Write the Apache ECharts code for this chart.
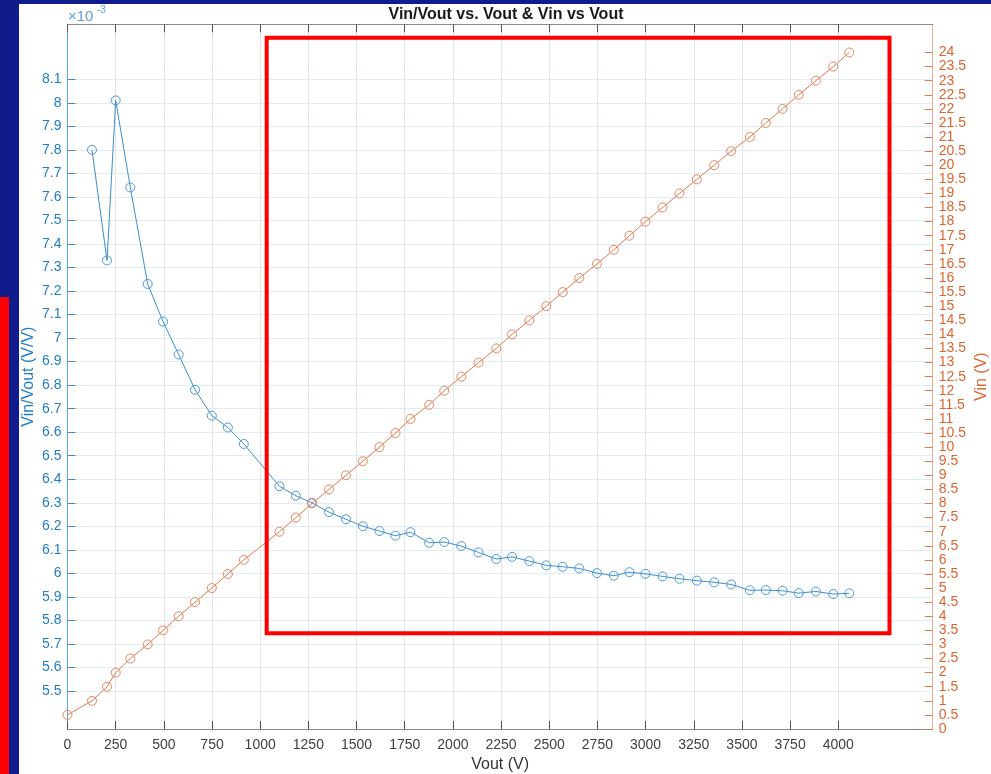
<!DOCTYPE html>
<html>
<head>
<meta charset="utf-8">
<script src="https://cdn.jsdelivr.net/npm/echarts@6/dist/echarts.min.js"></script>
<style>
  html, body { margin: 0; padding: 0; background: #ffffff; }
  #chart { width: 991px; height: 774px; }
</style>
</head>
<body>
<div id="chart"></div>
<script>
// Output voltage of each measurement (V)
const voutV = [0, 127, 205, 250, 326, 416, 496, 577, 662, 749, 832,
  915, 1100, 1185, 1268, 1357, 1445, 1533, 1619, 1702, 1780,
  1877, 1955, 2044, 2133, 2225, 2307, 2397, 2485, 2570, 2656,
  2748, 2835, 2916, 2999, 3088, 3176, 3266, 3356, 3444, 3541,
  3624, 3711, 3795, 3884, 3974, 4057];

// Input voltage applied (V)
const vinV = [0.5, 1, 1.5, 2, 2.5, 3, 3.5, 4, 4.5, 5, 5.5, 6,
  7, 7.5, 8, 8.5, 9, 9.5, 10, 10.5, 11, 11.5, 12, 12.5, 13, 13.5,
  14, 14.5, 15, 15.5, 16, 16.5, 17, 17.5, 18, 18.5, 19, 19.5, 20,
  20.5, 21, 21.5, 22, 22.5, 23, 23.5, 24];

// Vin/Vout ratio for every point with a non-zero Vout (voutV[1..])
const ratioV = [0.00780, 0.00733, 0.00801, 0.00764, 0.00723, 0.00707, 0.00693, 0.00678, 0.00667, 0.00662,
  0.00655, 0.00637, 0.00633, 0.00630, 0.00626, 0.00623, 0.00620, 0.00618, 0.00616, 0.006175,
  0.00613, 0.006133, 0.006116, 0.006089, 0.006061, 0.00607, 0.006052, 0.006034, 0.006028, 0.006021,
  0.006001, 0.00599, 0.006005, 0.005998, 0.005987, 0.005977, 0.005969, 0.005962, 0.005953, 0.005928,
  0.005929, 0.005926, 0.005916, 0.005923, 0.005912, 0.005915];

// Tick positions
const voutTicks = [0, 250, 500, 750, 1000, 1250, 1500, 1750, 2000, 2250, 2500,
  2750, 3000, 3250, 3500, 3750, 4000];
const vinTicks = [0, 0.5, 1, 1.5, 2, 2.5, 3, 3.5, 4, 4.5, 5, 5.5, 6, 6.5, 7, 7.5,
  8, 8.5, 9, 9.5, 10, 10.5, 11, 11.5, 12, 12.5, 13, 13.5, 14, 14.5, 15, 15.5,
  16, 16.5, 17, 17.5, 18, 18.5, 19, 19.5, 20, 20.5, 21, 21.5, 22, 22.5, 23, 23.5, 24];
const ratioTicks = [0.0055, 0.0056, 0.0057, 0.0058, 0.0059, 0.0060, 0.0061, 0.0062, 0.0063,
  0.0064, 0.0065, 0.0066, 0.0067, 0.0068, 0.0069, 0.0070, 0.0071, 0.0072, 0.0073,
  0.0074, 0.0075, 0.0076, 0.0077, 0.0078, 0.0079, 0.0080, 0.0081];

const FONT = '"Liberation Sans", Arial, Helvetica, sans-serif';
const NAVY = '#101c8c';

const vinData = vinV.map((v, i) => [voutV[i], v]);
const ratioData = ratioV.map((r, i) => [voutV[i + 1], r]);

const chart = echarts.init(document.getElementById('chart'), null, { renderer: 'canvas' });

chart.setOption({
  animation: false,
  backgroundColor: '#ffffff',
  title: {
    text: 'Vin/Vout vs. Vout & Vin vs Vout',
    left: 501,
    top: 2,
    textAlign: 'center',
    textStyle: { fontFamily: FONT, fontSize: 16, fontWeight: 'bold', color: '#1a1a1a' }
  },
  grid: {
    left: 67.5, right: 58.3, top: 24.3, bottom: 45,
    containLabel: false, outerBoundsMode: 'none'
  },
  xAxis: [
    {
      type: 'value', position: 'bottom', min: 0, max: 4490,
      axisLine: { show: true, onZero: false, lineStyle: { color: '#8a8a8a', width: 1 } },
      axisTick: { show: true, inside: true, length: 8, customValues: voutTicks, lineStyle: { color: '#555555' } },
      axisLabel: {
        customValues: voutTicks, color: '#404040', fontSize: 14, fontFamily: FONT, margin: 9,
        formatter: v => String(v)
      },
      splitLine: { show: true, lineStyle: { color: '#e2e5ea', width: 1 } },
      name: 'Vout (V)', nameLocation: 'middle', nameGap: 36, nameMoveOverlap: false,
      nameTextStyle: { fontFamily: FONT, fontSize: 16, color: '#333333', verticalAlign: 'middle' }
    },
    {
      type: 'value', position: 'top', min: 0, max: 4490,
      axisLine: { show: true, onZero: false, lineStyle: { color: '#8a8a8a', width: 1 } },
      axisTick: { show: true, inside: true, length: 8, customValues: voutTicks, lineStyle: { color: '#555555' } },
      axisLabel: { show: false },
      splitLine: { show: false }
    }
  ],
  yAxis: [
    {
      type: 'value', position: 'left', min: 0.0053385, max: 0.0083335,
      axisLine: { show: true, onZero: false, lineStyle: { color: '#5ea7dc', width: 1 } },
      axisTick: { show: true, inside: true, length: 8, customValues: ratioTicks, lineStyle: { color: '#3b8fd0' } },
      axisLabel: {
        customValues: ratioTicks, color: '#1f7dc4', fontSize: 14, fontFamily: FONT, margin: 6,
        formatter: v => String(Math.round(v * 10000) / 10)
      },
      splitLine: { show: true, lineStyle: { color: '#e1ecf6', width: 1 } },
      name: 'Vin/Vout (V/V)', nameLocation: 'middle', nameGap: 39, nameRotate: 90, nameMoveOverlap: false,
      nameTextStyle: { fontFamily: FONT, fontSize: 16, color: '#1f7dc4', verticalAlign: 'middle' }
    },
    {
      type: 'value', position: 'right', min: 0, max: 25,
      axisLine: { show: true, onZero: false, lineStyle: { color: '#efae8c', width: 1 } },
      axisTick: { show: true, inside: true, length: 8, customValues: vinTicks, lineStyle: { color: '#e07a4c' } },
      axisLabel: {
        customValues: vinTicks, color: '#dc6530', fontSize: 14, fontFamily: FONT, margin: 6,
        hideOverlap: false
      },
      splitLine: { show: false },
      name: 'Vin (V)', nameLocation: 'middle', nameGap: 49, nameRotate: 90, nameMoveOverlap: false,
      nameTextStyle: { fontFamily: FONT, fontSize: 16, color: '#dc6530', verticalAlign: 'middle' }
    }
  ],
  series: [
    {
      name: 'Vin/Vout', type: 'line', xAxisIndex: 0, yAxisIndex: 0,
      data: ratioData,
      symbol: 'circle', symbolSize: 9, showSymbol: true, showAllSymbol: true,
      itemStyle: { color: 'rgba(0,0,0,0)', borderColor: '#4d9ad6', borderWidth: 1 },
      lineStyle: { color: '#3c8ed0', width: 1 },
      emphasis: { disabled: true }, z: 3
    },
    {
      name: 'Vin', type: 'line', xAxisIndex: 0, yAxisIndex: 1,
      data: vinData,
      symbol: 'circle', symbolSize: 9, showSymbol: true, showAllSymbol: true,
      itemStyle: { color: 'rgba(0,0,0,0)', borderColor: '#e8875c', borderWidth: 1 },
      lineStyle: { color: '#e0774a', width: 1 },
      emphasis: { disabled: true }, z: 3
    }
  ],
  graphic: [
    // window frame around the figure
    { type: 'rect', left: 0, top: 0, z: 200, silent: true, shape: { width: 991, height: 4 }, style: { fill: NAVY } },
    { type: 'rect', left: 0, top: 0, z: 200, silent: true, shape: { width: 19, height: 774 }, style: { fill: NAVY } },
    { type: 'rect', left: 0, top: 297, z: 201, silent: true, shape: { width: 9, height: 477 }, style: { fill: '#ff0000' } },
    // exponent of the left axis
    { type: 'text', x: 68, y: 9, z: 50, silent: true,
      style: { text: '×10', font: '15px ' + FONT, fill: '#5aa0d8', verticalAlign: 'top' } },
    { type: 'text', x: 97, y: 5, z: 50, silent: true,
      style: { text: '-3', font: '10px ' + FONT, fill: '#5aa0d8', verticalAlign: 'top' } },
    // highlight box
    { type: 'rect', z: 150, silent: true,
      shape: { x: 266.7, y: 37.7, width: 622.8, height: 595.6 },
      style: { fill: 'none', stroke: '#ff0000', lineWidth: 4 } }
  ]
});
</script>
</body>
</html>
